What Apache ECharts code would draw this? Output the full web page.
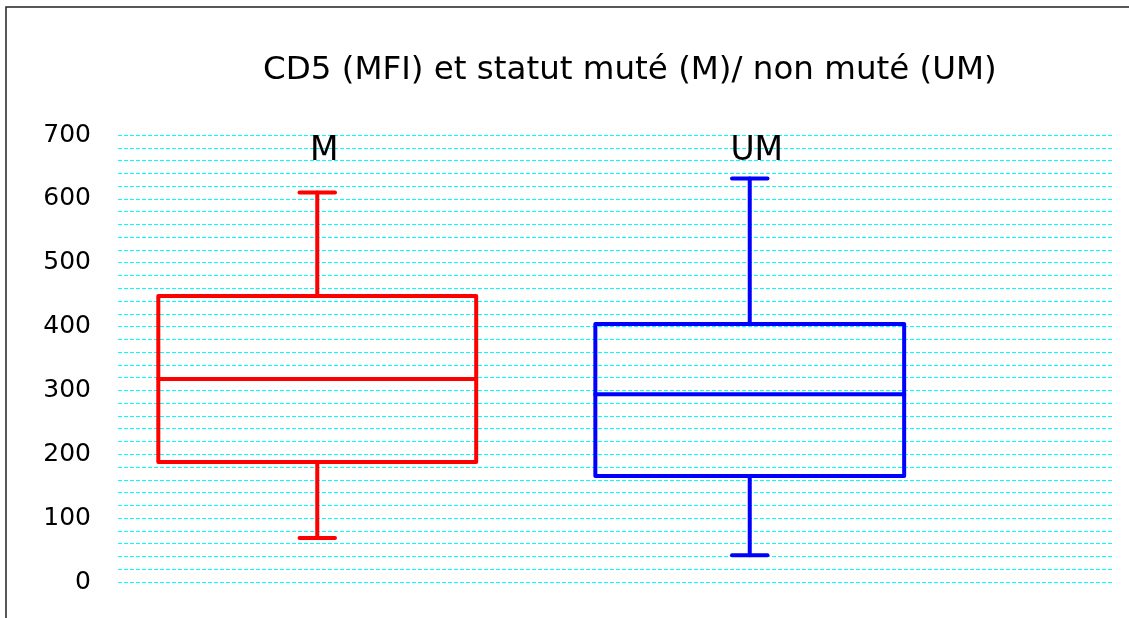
<!DOCTYPE html>
<html>
<head>
<meta charset="utf-8">
<style>
  html, body { margin: 0; padding: 0; background: #fff; }
  #chart { width: 1129px; height: 618px; }
</style>
<script src="https://cdn.jsdelivr.net/npm/echarts@6/dist/echarts.min.js"></script>
</head>
<body>
<div id="chart"></div>
<script>
// box plot data
const categories = ['M', 'UM']
const minValues = [69, 42]
const q1Values = [188, 166]
const medianValues = [318, 294]
const q3Values = [448, 404]
const maxValues = [610, 632]
const yMin = 0
const yMax = 700
const yGridStep = 20 // dashed grid every 20, labels every 100
const yLabelStep = 100

const colors = ['#ff0000', '#0000ff']
const boxRatio = [0.735, 0.714] // box width / band width
const capRatio = 0.082

const boxData = categories.map((c, i) => [i, minValues[i], q1Values[i], medianValues[i], q3Values[i], maxValues[i]])

const chart = echarts.init(document.getElementById('chart'))

function renderBox(params, api) {
  const idx = api.value(0)
  const band = api.size([1, 0])[0]
  const halfBox = band * boxRatio[idx] / 2
  const halfCap = band * capRatio / 2
  const pMin = api.coord([idx, api.value(1)])
  const pQ1 = api.coord([idx, api.value(2)])
  const pMed = api.coord([idx, api.value(3)])
  const pQ3 = api.coord([idx, api.value(4)])
  const pMax = api.coord([idx, api.value(5)])
  const cx = pMed[0]
  const style = {
    stroke: colors[idx],
    fill: 'none',
    lineWidth: 4,
    lineJoin: 'round',
    lineCap: 'round'
  }
  const line = (x1, y1, x2, y2) => ({ type: 'line', shape: { x1, y1, x2, y2 }, style })
  return {
    type: 'group',
    children: [
      line(cx, pMax[1], cx, pQ3[1]),
      line(cx, pQ1[1], cx, pMin[1]),
      line(cx - halfCap, pMax[1], cx + halfCap, pMax[1]),
      line(cx - halfCap, pMin[1], cx + halfCap, pMin[1]),
      {
        type: 'rect',
        shape: { x: cx - halfBox, y: pQ3[1], width: halfBox * 2, height: pQ1[1] - pQ3[1] },
        style
      },
      line(cx - halfBox, pMed[1], cx + halfBox, pMed[1])
    ]
  }
}

chart.setOption({
  animation: false,
  backgroundColor: '#fff',
  title: {
    text: 'CD5 (MFI) et statut muté (M)/ non muté (UM)',
    left: 258,
    top: 49,
    textStyle: {
      fontFamily: 'DejaVu Sans',
      fontWeight: 'normal',
      fontSize: 32.5,
      color: '#000'
    }
  },
  graphic: [
    {
      type: 'rect',
      silent: true,
      shape: { x: 6, y: 7, width: 1300, height: 800 },
      style: { fill: 'none', stroke: '#222', lineWidth: 1.5 }
    }
  ],
  grid: [
    { left: 118, right: 17, top: 135, bottom: 36 },
    { left: 101, right: 163, top: 135, bottom: 36 }
  ],
  xAxis: [
    {
      gridIndex: 0,
      type: 'category',
      data: [''],
      show: false
    },
    {
      gridIndex: 1,
      type: 'category',
      data: categories,
      position: 'top',
      axisLine: { show: false },
      axisTick: { show: false },
      splitLine: { show: false },
      axisLabel: {
        inside: true,
        margin: 0,
        padding: [0, 0, 0, 14],
        fontFamily: 'DejaVu Sans',
        fontSize: 33,
        color: '#000'
      }
    }
  ],
  yAxis: [
    {
      gridIndex: 0,
      type: 'value',
      min: yMin,
      max: yMax,
      interval: yGridStep,
      axisLine: { show: false },
      axisTick: { show: false },
      axisLabel: {
        margin: 27,
        fontFamily: 'DejaVu Sans',
        fontSize: 25,
        color: '#000',
        formatter: v => (v % yLabelStep === 0 ? String(v) : '')
      },
      splitLine: {
        show: true,
        lineStyle: { color: '#00ffff', width: 1, type: [4, 2] }
      }
    },
    {
      gridIndex: 1,
      type: 'value',
      min: yMin,
      max: yMax,
      interval: yLabelStep,
      show: false,
      splitLine: { show: false }
    }
  ],
  series: [
    {
      type: 'custom',
      xAxisIndex: 1,
      yAxisIndex: 1,
      renderItem: renderBox,
      encode: { x: 0, y: [1, 2, 3, 4, 5] },
      data: boxData
    }
  ]
})
</script>
</body>
</html>
